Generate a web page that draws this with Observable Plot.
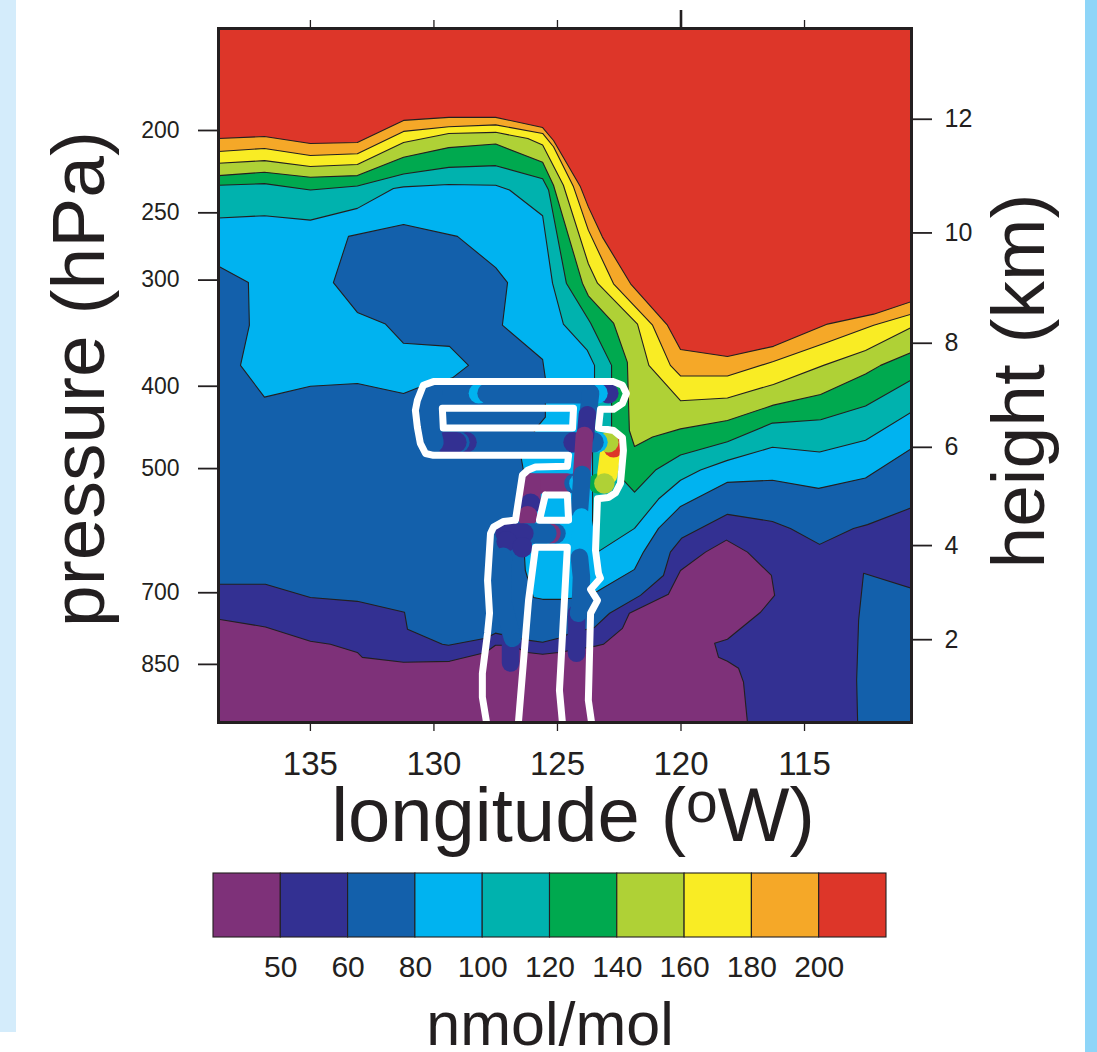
<!DOCTYPE html>
<html>
<head>
<meta charset="utf-8">
<script src="https://cdn.jsdelivr.net/npm/d3@7"></script>
<script src="https://cdn.jsdelivr.net/npm/@observablehq/plot@0.6"></script>
<style>
html,body{margin:0;padding:0;background:#fff;overflow:hidden}
svg{display:block}
.strip{position:absolute;top:0}
</style>
</head>
<body>
<div class="strip" style="left:0;width:16px;height:1032px;background:#d4ecfb"></div>
<div class="strip" style="left:1085px;width:12px;height:1052px;background:#8ed5f8"></div>
<div id="chart"></div>
<div id="legend"></div>
<script>
// value classes
const classBreaks = [50, 60, 80, 100, 120, 140, 160, 180, 200];
const classColors = ["#7e3179", "#333092", "#1360ab", "#00b3f0", "#00b2ae", "#00a94f", "#afd136", "#f9ec24", "#f5a828", "#dd3629"];
// one representative mixing ratio per class
const PUR = 45, IND = 55, BLU = 70, LBL = 90, TEA = 110, GRN = 130, LIM = 150, YEL = 170, ORG = 190, RED = 210;

// axis domains and ticks
const lonWest = 138.72, lonEast = 110.67, pTop = 151.7, pBottom = 995;
const lonTicks = [135, 130, 125, 120, 115];
const pressureTicks = [200, 250, 300, 400, 500, 700, 850];
const heightKm = [12, 10, 8, 6, 4, 2];
const heightPressure = [194, 264, 356, 472, 616, 795];

// contour lines, [longitude west, pressure hPa], west to east
const c200 = [[138.72,204.4],[136.86,203.3],[135,207.2],[133.1,206.6],[131.23,194.6],[129.4,193],[127.5,193],[125.6,198.4],[125.16,205.5],[124.07,233],[123.75,246],[123.18,267],[122.04,303],[120.55,339],[120.02,362],[118.12,369],[116.26,359],[114.07,338],[112.2,329],[110.67,318]];
const c180 = [[138.72,211.7],[136.86,210],[135,214],[133.1,213],[131.23,200.5],[129.4,198],[127.5,197],[125.6,201.6],[125.16,209],[124.35,233],[123.75,262],[122.73,303],[121.15,339],[120.43,378],[120.02,389],[118.12,389],[116.26,374],[114.07,355],[112.2,339],[110.67,329]];
const c160 = [[138.72,218.6],[136.86,217],[135,220.5],[133.1,219.3],[131.23,206.6],[129.4,201.6],[127.5,201],[126.2,204.4],[125.6,208],[124.76,232],[123.75,287],[123.38,302.5],[121.76,338],[121.3,378],[120.02,416],[118.12,413],[116.26,398],[114.23,378],[112.53,363],[110.67,341]];
const c140 = [[138.72,226],[136.86,224],[135,227],[133.1,226],[131.23,215],[129.4,209.5],[127.5,207.5],[125.6,218],[125.16,232],[123.99,302.5],[123.75,313],[122.73,337],[122.17,375],[122.09,451],[121.88,471],[121.15,459],[120.02,449],[118.12,439],[116.26,421],[114.35,409],[112.53,387],[111.92,378],[110.67,365]];
const c120 = [[138.72,232],[136.86,231],[135,235],[133.1,232.5],[131.23,225],[129.4,221],[127.5,220],[125.6,228],[125.36,235],[124.64,302.5],[123.66,337],[122.81,378],[122.81,463],[122.77,489],[122.33,516],[121.88,533],[121.03,502],[120.02,482],[118.12,465],[116.3,442],[114.35,438],[112.53,422],[110.67,393]];
const c100 = [[138.72,253.5],[136.86,252],[135,255],[133.1,247],[131.64,234],[131.23,233],[129.4,231.5],[127.5,232],[126.94,235],[125.6,252],[125.2,302.5],[124.76,338],[123.79,363],[123.5,378],[123.5,400],[123.58,476],[123.58,575],[123.38,627],[121.88,588],[120.91,543],[120.02,516],[119.21,502],[118.12,489],[116.3,472],[114.39,478],[112.53,463],[110.67,429]];
const c80 = [[138.72,289],[137.51,302],[137.47,339],[137.83,378],[136.86,412],[135,400],[133.1,397],[131.23,408],[130.67,402],[129.25,391],[128.6,378],[129.37,359],[131.23,356],[131.96,338],[133.1,327.5],[134.07,302],[133.46,266.5],[131.23,258],[129.05,266.5],[127.5,290],[127.02,302],[127.23,339],[125.6,372],[125.49,391.5],[125.49,435],[125.77,444.7],[126.5,480],[126.38,502],[126.42,575],[126.3,659],[125.97,709],[125.6,712.6],[124.88,712.6],[124.07,709],[123.38,697],[121.88,657],[121.52,627],[120.91,588],[120.02,554],[118.12,519],[116.3,516],[114.43,527.5],[112.53,513],[110.67,473.5]];
const c60 = [[138.72,684],[136.82,684],[135,709],[133.1,716.5],[131.19,738],[131.07,773],[129.66,805],[129.41,807],[127.91,792],[127.51,781],[126.21,796],[125.6,800.6],[124.96,792],[124.47,781],[123.5,769],[122.89,740],[121.64,705],[120.71,668],[120.43,627],[119.98,604],[118.12,566],[116.3,577],[115.57,588],[114.39,614],[113.02,588],[112.45,582],[110.67,556]];
const c50 = [[138.72,752],[136.82,768],[135,798.5],[134.19,805],[133.1,823],[132.9,834],[131.23,845],[129.37,843],[127.91,823],[127.51,807],[126.9,807],[126.21,823],[125.6,827],[124.96,823],[123.46,809],[123.14,805],[122.37,771],[122.09,740],[120.51,703],[120.02,659],[119.01,627],[118.16,607],[117.31,627],[116.34,668],[116.21,705],[116.78,738],[118.12,794],[118.64,802.5],[118.48,834],[118.12,843],[117.67,859],[117.47,892],[117.31,995]];
const island60 = [[112.61,664],[110.67,691.6],[110.67,995],[112.85,995],[112.89,887],[112.81,754]];

// flight track outline
const trackOuter = [[127.87,995],[128.04,929],[128.04,871],[127.83,781],[127.75,740],[127.83,677],[127.71,596],[127.59,586],[127.19,577],[126.78,575.3],[126.7,575],[126.42,509],[126.21,502.4],[125.89,498],[124.6,497],[124.55,482.4],[130.02,482.4],[130.34,480],[130.55,467],[130.67,447],[130.75,427],[130.67,415.6],[130.43,399],[130.02,395],[122.73,395],[122.37,399],[122.21,408],[122.37,419],[122.73,425.8],[123.26,425.8],[123.34,448],[122.73,451],[122.37,460],[122.33,476],[122.45,520.5],[122.65,534],[122.94,540.8],[123.38,542.5],[123.46,624],[123.34,664],[123.26,673],[123.66,693.5],[123.38,714.5],[123.66,740],[123.75,937],[123.62,995]];
const trackArch = [[126.58,995],[126.17,714.5],[125.89,619],[124.6,619],[124.92,912],[124.8,995]];
const trackHoleA = [[129.66,424.7],[124.35,424.7],[124.39,448],[129.62,448],[129.66,424.7]];
const trackHoleB = [[125.49,537],[124.6,537],[124.55,575],[125.73,575],[125.49,537]];

// flight level runs, in draw order: [class value, points]
const trackRuns = [
  [IND, [[122.94,407.7],[122.94,407.7]]],
  [LBL, [[123.38,407.7],[123.38,407.7]]],
  [BLU, [[130.06,407.7],[128.52,407.7]]],
  [LBL, [[128.18,407.7],[128.18,407.7]]],
  [BLU, [[127.83,407.7],[123.75,407.7]]],
  [BLU, [[128.32,465.7],[124.39,465.7]]],
  [IND, [[124.35,465.7],[124.35,465.7]]],
  [IND, [[128.68,465.7],[128.68,465.7]]],
  [BLU, [[128.97,465.7],[128.97,465.7]]],
  [IND, [[129.58,465.7],[129.09,465.7]]],
  [BLU, [[130.06,407.7],[130.26,421],[130.18,444],[130.02,465.7]]],
  [GRN, [[123.34,520.5],[123.34,520.5]]],
  [YEL, [[122.88,482],[122.98,508]]],
  [LIM, [[123.1,520.5],[123.1,520.5]]],
  [RED, [[122.73,472],[122.73,472]]],
  [LIM, [[122.94,465.7],[122.94,465.7]]],
  [LBL, [[123.38,465.7],[123.38,465.7]]],
  [BLU, [[123.54,465.7],[123.54,465.7]]],
  [PUR, [[126.09,520.5],[124.6,520.5]]],
  [BLU, [[124.31,520.5],[124.31,520.5]]],
  [LBL, [[124.11,520.5],[124.11,520.5]]],
  [PUR, [[126.09,520.5],[126.09,545]]],
  [IND, [[126.09,550],[126.09,550]]],
  [PUR, [[126.21,569],[126.21,569]]],
  [BLU, [[125.08,596],[125.08,596]]],
  [PUR, [[125.28,596],[125.28,596]]],
  [BLU, [[125.45,596],[126.3,596]]],
  [IND, [[127.1,596],[126.38,596]]],
  [IND, [[127.06,609],[127.06,609]]],
  [IND, [[126.42,619],[126.42,619]]]
];
// profile legs, in draw order
const trackLegs = [
  [IND, [[126.9,785],[126.9,847]]],
  [BLU, [[127.19,634],[127.23,714.5],[126.82,792]]],
  [BLU, [[123.66,407.7],[123.75,429.4]]],
  [IND, [[123.79,432],[123.87,458.3]]],
  [PUR, [[123.91,457],[124.03,513.4]]],
  [BLU, [[124,508],[124.11,560]]],
  [LBL, [[124.03,570],[124.07,607]]],
  [IND, [[124.23,740],[124.23,825]]],
  [BLU, [[124.11,636],[124.03,671],[124.07,720],[124.15,740]]]
];

const asRows = (runs) => runs.flatMap(([value, pts], id) => pts.map(([lon, p]) => ({id, value, lon, p})));

const bands = [
  [RED, [[lonWest,pTop],[lonEast,pTop],[lonEast,pBottom],[lonWest,pBottom]]],
  [ORG, [...c200,[lonEast,pBottom],[lonWest,pBottom]]],
  [YEL, [...c180,[lonEast,pBottom],[lonWest,pBottom]]],
  [LIM, [...c160,[lonEast,pBottom],[lonWest,pBottom]]],
  [GRN, [...c140,[lonEast,pBottom],[lonWest,pBottom]]],
  [TEA, [...c120,[lonEast,pBottom],[lonWest,pBottom]]],
  [LBL, [...c100,[lonEast,pBottom],[lonWest,pBottom]]],
  [BLU, [...c80,[lonEast,pBottom],[lonWest,pBottom]]],
  [IND, [...c60,[lonEast,pBottom],[lonWest,pBottom]]],
  [PUR, [...c50,[lonWest,pBottom]]],
  [BLU, island60]
];
const outlineParts = [trackOuter, trackArch, trackHoleA, trackHoleB].map((pts) => [0, pts]);

const ink = "#231f20";
const font = "'Liberation Sans', Arial, Helvetica, sans-serif";
const colorScale = {type: "threshold", domain: classBreaks, range: classColors};

const chart = Plot.plot({
  width: 1097, height: 860,
  marginTop: 28, marginBottom: 138, marginLeft: 218, marginRight: 186,
  style: {fontFamily: font, background: "transparent"},
  x: {domain: [lonWest, lonEast], axis: null},
  y: {type: "log", domain: [pTop, pBottom], range: [28, 722], axis: null},
  color: colorScale,
  marks: [
    Plot.line(asRows(bands), {x: "lon", y: "p", z: "id", fill: "value", stroke: ink, strokeWidth: 1.1, clip: true, curve: "linear-closed"}),
    Plot.line(asRows(trackRuns), {x: "lon", y: "p", z: "id", stroke: "value", strokeWidth: 20.5, strokeLinecap: "round", strokeLinejoin: "round"}),
    Plot.line(asRows(trackLegs), {x: "lon", y: "p", z: "id", stroke: "value", strokeWidth: 17.5, strokeLinecap: "round", strokeLinejoin: "round"}),
    Plot.line(asRows(outlineParts), {x: "lon", y: "p", z: "id", stroke: "#fff", strokeWidth: 7, strokeLinejoin: "round", clip: true}),
    Plot.frame({stroke: ink, strokeWidth: 3}),
    Plot.axisX({anchor: "bottom", ticks: lonTicks, tickSize: 9, tickPadding: 20, fontSize: 33, tickFormat: (d) => String(d), label: null, stroke: ink, strokeWidth: 1.3, fill: ink}),
    Plot.axisX({anchor: "top", ticks: lonTicks.filter((d) => d !== 120), tickSize: 9, tickFormat: () => "", label: null, stroke: ink, strokeWidth: 1.3}),
    Plot.axisX({anchor: "top", ticks: [120], tickSize: 19, tickFormat: () => "", label: null, stroke: ink, strokeWidth: 2.6}),
    Plot.axisY({anchor: "left", ticks: pressureTicks, tickSize: 20, tickPadding: 19, fontSize: 23, tickFormat: (d) => String(d), label: null, stroke: ink, strokeWidth: 1.8, fill: ink}),
    Plot.axisY({anchor: "right", ticks: heightPressure, tickSize: 20, tickPadding: 13, fontSize: 25, tickFormat: (d) => String(heightKm[heightPressure.indexOf(d)]), label: null, stroke: ink, strokeWidth: 1.8, fill: ink}),
    Plot.text(["pressure (hPa)"], {frameAnchor: "left", textAnchor: "middle", lineAnchor: "bottom", rotate: -90, dx: -115, dy: 3.5, fontSize: 75, fill: ink}),
    Plot.text(["height (km)"], {frameAnchor: "right", textAnchor: "middle", lineAnchor: "bottom", rotate: -90, dx: 132, dy: 5.5, fontSize: 75, fill: ink}),
    Plot.text(["longitude (oW)"], {frameAnchor: "bottom", lineAnchor: "bottom", dx: 8, dy: 118, fontSize: 76, fill: ink})
  ]
});
// raised "o" of the degree-west label
d3.select(chart).selectAll("text").filter(function () { return this.textContent === "longitude (oW)"; }).each(function () {
  const t = d3.select(this).text(null);
  t.append("tspan").text("longitude (");
  t.append("tspan").attr("dy", "-0.32em").attr("font-size", "0.75em").text("o");
  t.append("tspan").attr("dy", "0.24em").text("W)");
});
document.getElementById("chart").append(chart);

// colour key
const legendCells = classColors.map((_, i) => ({i, value: [PUR, IND, BLU, LBL, TEA, GRN, LIM, YEL, ORG, RED][i]}));
const legend = Plot.plot({
  width: 1097, height: 192,
  marginTop: 13, marginBottom: 115, marginLeft: 213, marginRight: 211,
  style: {fontFamily: font, background: "transparent"},
  x: {domain: [0, 10], axis: null},
  y: {domain: [0, 1], axis: null},
  color: colorScale,
  marks: [
    Plot.rect(legendCells, {x1: "i", x2: (d) => d.i + 1, y1: 0, y2: 1, fill: "value", stroke: ink, strokeWidth: 1.1}),
    Plot.axisX({anchor: "bottom", ticks: classBreaks.map((_, i) => i + 1), tickSize: 0, tickPadding: 18, fontSize: 30, tickFormat: (d) => String(classBreaks[d - 1]), label: null, fill: ink}),
    Plot.text(["nmol/mol"], {frameAnchor: "bottom", lineAnchor: "bottom", dy: 107, fontSize: 61, fill: ink})
  ]
});
document.getElementById("legend").append(legend);
</script>
</body>
</html>
